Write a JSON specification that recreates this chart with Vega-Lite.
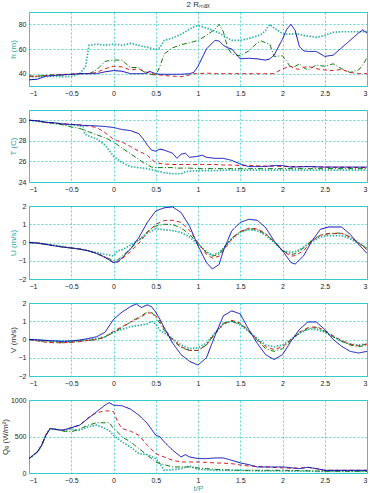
{
"$schema": "https://vega.github.io/schema/vega-lite/v6.json",
"padding": {"left": 0, "top": 0, "right": 0, "bottom": 0},
"bounds": "flush",
"spacing": 24,
"config": {
 "view": {"stroke": "#33cccc", "strokeWidth": 1},
 "axis": {"domain": false, "grid": true, "gridColor": "#33cccc", "gridDash": [2, 2], "gridOpacity": 1, "gridWidth": 0.8, "tickSize": 0, "labelFont": "Liberation Sans", "labelFontSize": 7, "labelColor": "#222", "titleFont": "Liberation Sans", "titleFontSize": 8, "titleFontWeight": "normal", "labelPadding": 3, "format": "~f"},
 "axisY": {"titlePadding": 1},
 "axisX": {"labelPadding": 3}
},
"datasets": {
 "h": [
  {"t": -1, "b": 35, "r": 38, "g": 38, "c": 37.5},
  {"t": -0.9, "b": 35.5, "r": 38, "g": 38, "c": 37.5},
  {"t": -0.8, "b": 38, "r": 38.5, "g": 38.5, "c": 37.8},
  {"t": -0.7, "b": 38.5, "r": 39, "g": 39, "c": 37.8},
  {"t": -0.6, "b": 39, "r": 39.5, "g": 39, "c": 37.5},
  {"t": -0.5, "b": 39.5, "r": 39.5, "g": 39.5, "c": 37.8},
  {"t": -0.4, "b": 40, "r": 40, "g": 40, "c": 40},
  {"t": -0.33, "b": 40, "r": 40, "g": 40, "c": 46},
  {"t": -0.29, "b": 40, "r": 40, "g": 40, "c": 63},
  {"t": -0.2, "b": 40, "r": 41, "g": 43, "c": 64},
  {"t": -0.1, "b": 41.5, "r": 44, "g": 50, "c": 63},
  {"t": 0, "b": 42.5, "r": 46, "g": 51, "c": 64},
  {"t": 0.1, "b": 42, "r": 45.5, "g": 51, "c": 63},
  {"t": 0.2, "b": 40, "r": 43, "g": 45, "c": 64.5},
  {"t": 0.3, "b": 40, "r": 44, "g": 45, "c": 63},
  {"t": 0.35, "b": 40, "r": 42, "g": 42, "c": 62},
  {"t": 0.4, "b": 40.5, "r": 41, "g": 40, "c": 61.5},
  {"t": 0.42, "b": 42, "r": 41, "g": 40, "c": 61},
  {"t": 0.5, "b": 40, "r": 39, "g": 38.5, "c": 59.5},
  {"t": 0.55, "b": 39.5, "r": 39, "g": 46, "c": 61},
  {"t": 0.6, "b": 39.5, "r": 38.5, "g": 56, "c": 67},
  {"t": 0.7, "b": 39.5, "r": 38, "g": 61, "c": 69},
  {"t": 0.8, "b": 39.5, "r": 37.5, "g": 63.5, "c": 72},
  {"t": 0.9, "b": 40, "r": 39, "g": 65, "c": 76},
  {"t": 0.95, "b": 41, "r": 40, "g": 66, "c": 78},
  {"t": 1.0, "b": 46, "r": 40, "g": 67, "c": 79},
  {"t": 1.1, "b": 60, "r": 40.5, "g": 71, "c": 77},
  {"t": 1.2, "b": 67, "r": 40, "g": 76, "c": 74.5},
  {"t": 1.25, "b": 66.5, "r": 40, "g": 80, "c": 73},
  {"t": 1.3, "b": 63, "r": 40, "g": 74, "c": 71},
  {"t": 1.35, "b": 61, "r": 40, "g": 61, "c": 69},
  {"t": 1.4, "b": 60, "r": 40, "g": 56, "c": 67},
  {"t": 1.5, "b": 52, "r": 40, "g": 54.5, "c": 67},
  {"t": 1.6, "b": 52.5, "r": 40, "g": 58.5, "c": 68.5},
  {"t": 1.7, "b": 52, "r": 40, "g": 65, "c": 70.5},
  {"t": 1.75, "b": 51.5, "r": 40, "g": 66.5, "c": 72},
  {"t": 1.8, "b": 51, "r": 40, "g": 65, "c": 75},
  {"t": 1.85, "b": 52, "r": 40, "g": 64, "c": 80},
  {"t": 1.9, "b": 55, "r": 40, "g": 54, "c": 77},
  {"t": 2.0, "b": 68, "r": 44, "g": 54.5, "c": 72.5},
  {"t": 2.05, "b": 76, "r": 45, "g": 50, "c": 72},
  {"t": 2.1, "b": 80, "r": 46, "g": 44.5, "c": 72},
  {"t": 2.15, "b": 75, "r": 44, "g": 46, "c": 72.5},
  {"t": 2.2, "b": 62, "r": 43.5, "g": 48, "c": 72},
  {"t": 2.25, "b": 58.5, "r": 45, "g": 45, "c": 71},
  {"t": 2.3, "b": 58, "r": 46, "g": 43, "c": 70.5},
  {"t": 2.4, "b": 58, "r": 44, "g": 47, "c": 69.5},
  {"t": 2.5, "b": 54, "r": 43, "g": 46, "c": 71},
  {"t": 2.6, "b": 55, "r": 42.5, "g": 48, "c": 73.5},
  {"t": 2.7, "b": 61, "r": 43.5, "g": 44, "c": 74},
  {"t": 2.8, "b": 67, "r": 41, "g": 41, "c": 74},
  {"t": 2.9, "b": 73, "r": 40, "g": 43, "c": 74},
  {"t": 2.95, "b": 75.5, "r": 40, "g": 47, "c": 74},
  {"t": 3.0, "b": 73, "r": 40, "g": 53, "c": 74}
 ],
 "T": [
  {"t": -1, "b": 30, "r": 30, "g": 30, "c": 30},
  {"t": -0.9, "b": 29.95, "r": 29.95, "g": 29.95, "c": 29.9},
  {"t": -0.8, "b": 29.8, "r": 29.8, "g": 29.8, "c": 29.8},
  {"t": -0.7, "b": 29.75, "r": 29.75, "g": 29.7, "c": 29.7},
  {"t": -0.6, "b": 29.65, "r": 29.65, "g": 29.55, "c": 29.6},
  {"t": -0.5, "b": 29.6, "r": 29.6, "g": 29.35, "c": 29.55},
  {"t": -0.4, "b": 29.55, "r": 29.55, "g": 29.2, "c": 29.45},
  {"t": -0.36, "b": 29.5, "r": 29.5, "g": 29.1, "c": 29.4},
  {"t": -0.34, "b": 29.5, "r": 29.47, "g": 29.0, "c": 28.65},
  {"t": -0.3, "b": 29.5, "r": 29.45, "g": 28.9, "c": 28.5},
  {"t": -0.2, "b": 29.45, "r": 29.3, "g": 28.6, "c": 28.2},
  {"t": -0.1, "b": 29.4, "r": 28.8, "g": 28.3, "c": 27.6},
  {"t": 0, "b": 29.3, "r": 28.15, "g": 27.9, "c": 26.5},
  {"t": 0.05, "b": 29.2, "r": 28.0, "g": 27.6, "c": 26.2},
  {"t": 0.1, "b": 29.1, "r": 27.9, "g": 27.3, "c": 25.9},
  {"t": 0.2, "b": 29.0, "r": 27.45, "g": 26.75, "c": 25.5},
  {"t": 0.3, "b": 28.7, "r": 27.0, "g": 26.2, "c": 25.4},
  {"t": 0.35, "b": 28.2, "r": 26.8, "g": 25.9, "c": 25.35},
  {"t": 0.4, "b": 27.6, "r": 26.6, "g": 25.7, "c": 25.3},
  {"t": 0.45, "b": 27.1, "r": 26.2, "g": 25.45, "c": 25.2},
  {"t": 0.5, "b": 27.0, "r": 25.9, "g": 25.4, "c": 25.1},
  {"t": 0.55, "b": 27.2, "r": 25.8, "g": 25.4, "c": 25.0},
  {"t": 0.6, "b": 27.1, "r": 25.75, "g": 25.4, "c": 24.9},
  {"t": 0.7, "b": 26.8, "r": 25.7, "g": 25.4, "c": 24.8},
  {"t": 0.75, "b": 26.3, "r": 25.7, "g": 25.35, "c": 24.8},
  {"t": 0.8, "b": 26.7, "r": 25.7, "g": 25.35, "c": 24.8},
  {"t": 0.85, "b": 26.8, "r": 25.7, "g": 25.35, "c": 25.0},
  {"t": 0.9, "b": 26.4, "r": 25.7, "g": 25.35, "c": 25.05},
  {"t": 1.0, "b": 26.5, "r": 25.7, "g": 25.3, "c": 25.1},
  {"t": 1.05, "b": 26.6, "r": 25.7, "g": 25.3, "c": 25.1},
  {"t": 1.1, "b": 26.4, "r": 25.7, "g": 25.3, "c": 25.1},
  {"t": 1.2, "b": 26.3, "r": 25.7, "g": 25.3, "c": 25.1},
  {"t": 1.3, "b": 26.3, "r": 25.65, "g": 25.3, "c": 25.15},
  {"t": 1.4, "b": 26.1, "r": 25.65, "g": 25.3, "c": 25.15},
  {"t": 1.5, "b": 25.75, "r": 25.6, "g": 25.3, "c": 25.15},
  {"t": 1.6, "b": 25.5, "r": 25.6, "g": 25.3, "c": 25.15},
  {"t": 1.8, "b": 25.5, "r": 25.55, "g": 25.3, "c": 25.15},
  {"t": 1.9, "b": 25.6, "r": 25.55, "g": 25.3, "c": 25.15},
  {"t": 2.0, "b": 25.6, "r": 25.5, "g": 25.3, "c": 25.15},
  {"t": 2.1, "b": 25.45, "r": 25.5, "g": 25.3, "c": 25.15},
  {"t": 2.3, "b": 25.5, "r": 25.5, "g": 25.3, "c": 25.15},
  {"t": 2.5, "b": 25.45, "r": 25.45, "g": 25.3, "c": 25.15},
  {"t": 3.0, "b": 25.45, "r": 25.4, "g": 25.3, "c": 25.15}
 ],
 "U": [
  {"t": -1, "b": 0, "r": 0, "g": 0, "c": 0},
  {"t": -0.9, "b": -0.03, "r": -0.03, "g": -0.03, "c": -0.03},
  {"t": -0.8, "b": -0.1, "r": -0.1, "g": -0.1, "c": -0.1},
  {"t": -0.7, "b": -0.18, "r": -0.18, "g": -0.18, "c": -0.15},
  {"t": -0.6, "b": -0.25, "r": -0.25, "g": -0.25, "c": -0.22},
  {"t": -0.5, "b": -0.3, "r": -0.3, "g": -0.3, "c": -0.3},
  {"t": -0.4, "b": -0.36, "r": -0.36, "g": -0.36, "c": -0.36},
  {"t": -0.3, "b": -0.45, "r": -0.45, "g": -0.45, "c": -0.45},
  {"t": -0.2, "b": -0.6, "r": -0.6, "g": -0.6, "c": -0.55},
  {"t": -0.1, "b": -0.82, "r": -0.8, "g": -0.78, "c": -0.65},
  {"t": 0, "b": -1.1, "r": -1.1, "g": -1.0, "c": -0.73},
  {"t": 0.05, "b": -1.05, "r": -1.08, "g": -0.95, "c": -0.45},
  {"t": 0.1, "b": -0.85, "r": -0.9, "g": -0.75, "c": -0.4},
  {"t": 0.2, "b": -0.36, "r": -0.5, "g": -0.35, "c": -0.15},
  {"t": 0.3, "b": 0.27, "r": -0.05, "g": 0.1, "c": 0.15},
  {"t": 0.4, "b": 1.1, "r": 0.55, "g": 0.6, "c": 0.5},
  {"t": 0.5, "b": 1.73, "r": 1.0, "g": 0.9, "c": 0.75},
  {"t": 0.6, "b": 1.9, "r": 1.2, "g": 1.0, "c": 0.7},
  {"t": 0.7, "b": 1.95, "r": 1.22, "g": 0.98, "c": 0.65},
  {"t": 0.8, "b": 1.64, "r": 1.1, "g": 0.8, "c": 0.55},
  {"t": 0.9, "b": 0.9, "r": 0.65, "g": 0.45, "c": 0.3},
  {"t": 1.0, "b": -0.18, "r": 0.0, "g": -0.05, "c": -0.1},
  {"t": 1.1, "b": -1.1, "r": -0.65, "g": -0.55, "c": -0.5},
  {"t": 1.17, "b": -1.45, "r": -0.85, "g": -0.75, "c": -0.7},
  {"t": 1.25, "b": -1.2, "r": -0.75, "g": -0.65, "c": -0.55},
  {"t": 1.3, "b": -0.45, "r": -0.45, "g": -0.35, "c": -0.3},
  {"t": 1.4, "b": 0.64, "r": 0.2, "g": 0.25, "c": 0.2},
  {"t": 1.5, "b": 1.1, "r": 0.6, "g": 0.6, "c": 0.55},
  {"t": 1.6, "b": 1.27, "r": 0.78, "g": 0.75, "c": 0.7},
  {"t": 1.7, "b": 1.22, "r": 0.75, "g": 0.72, "c": 0.65},
  {"t": 1.8, "b": 0.82, "r": 0.5, "g": 0.45, "c": 0.4},
  {"t": 1.9, "b": 0.09, "r": 0.05, "g": 0.05, "c": 0.0},
  {"t": 2.0, "b": -0.45, "r": -0.45, "g": -0.45, "c": -0.45},
  {"t": 2.1, "b": -1.1, "r": -0.75, "g": -0.65, "c": -0.55},
  {"t": 2.15, "b": -1.18, "r": -0.72, "g": -0.62, "c": -0.5},
  {"t": 2.25, "b": -0.73, "r": -0.45, "g": -0.3, "c": -0.25},
  {"t": 2.35, "b": 0.1, "r": 0.1, "g": 0.15, "c": 0.05},
  {"t": 2.45, "b": 0.73, "r": 0.4, "g": 0.4, "c": 0.3},
  {"t": 2.55, "b": 0.85, "r": 0.48, "g": 0.5, "c": 0.38},
  {"t": 2.7, "b": 0.85, "r": 0.5, "g": 0.52, "c": 0.38},
  {"t": 2.8, "b": 0.45, "r": 0.3, "g": 0.3, "c": 0.2},
  {"t": 2.9, "b": -0.09, "r": 0.0, "g": 0.0, "c": -0.05},
  {"t": 3.0, "b": -0.6, "r": -0.4, "g": -0.35, "c": -0.3}
 ],
 "V": [
  {"t": -1, "b": 0, "r": 0, "g": 0, "c": 0},
  {"t": -0.9, "b": -0.02, "r": -0.08, "g": -0.05, "c": -0.03},
  {"t": -0.8, "b": -0.05, "r": -0.15, "g": -0.12, "c": -0.06},
  {"t": -0.7, "b": -0.08, "r": -0.18, "g": -0.15, "c": -0.08},
  {"t": -0.6, "b": -0.1, "r": -0.18, "g": -0.18, "c": -0.1},
  {"t": -0.5, "b": -0.08, "r": -0.15, "g": -0.15, "c": -0.08},
  {"t": -0.4, "b": -0.03, "r": -0.12, "g": -0.1, "c": -0.05},
  {"t": -0.3, "b": 0.05, "r": -0.05, "g": -0.05, "c": 0.0},
  {"t": -0.2, "b": 0.15, "r": 0.0, "g": 0.0, "c": 0.05},
  {"t": -0.1, "b": 0.4, "r": 0.15, "g": 0.12, "c": 0.15},
  {"t": 0, "b": 1.1, "r": 0.45, "g": 0.4, "c": 0.4},
  {"t": 0.1, "b": 1.5, "r": 0.7, "g": 0.65, "c": 0.55},
  {"t": 0.2, "b": 1.8, "r": 0.95, "g": 0.95, "c": 0.7},
  {"t": 0.27, "b": 1.95, "r": 1.1, "g": 1.15, "c": 0.75},
  {"t": 0.33, "b": 1.75, "r": 1.25, "g": 1.3, "c": 0.8},
  {"t": 0.4, "b": 1.9, "r": 1.45, "g": 1.5, "c": 0.85},
  {"t": 0.45, "b": 1.8, "r": 1.45, "g": 1.5, "c": 1.0},
  {"t": 0.5, "b": 1.5, "r": 1.3, "g": 1.2, "c": 0.85},
  {"t": 0.55, "b": 1.1, "r": 1.0, "g": 0.9, "c": 0.5},
  {"t": 0.6, "b": 0.65, "r": 0.6, "g": 0.5, "c": 0.35},
  {"t": 0.7, "b": -0.2, "r": 0.0, "g": -0.05, "c": 0.05},
  {"t": 0.8, "b": -0.83, "r": -0.4, "g": -0.45, "c": -0.3},
  {"t": 0.9, "b": -1.2, "r": -0.6, "g": -0.6, "c": -0.5},
  {"t": 1.0, "b": -1.4, "r": -0.6, "g": -0.6, "c": -0.45},
  {"t": 1.1, "b": -1.0, "r": -0.3, "g": -0.3, "c": -0.2},
  {"t": 1.2, "b": 0.2, "r": 0.3, "g": 0.35, "c": 0.35},
  {"t": 1.3, "b": 1.3, "r": 0.85, "g": 0.9, "c": 0.85},
  {"t": 1.4, "b": 1.57, "r": 1.05, "g": 1.0, "c": 1.0},
  {"t": 1.5, "b": 1.4, "r": 0.9, "g": 0.85, "c": 0.8},
  {"t": 1.6, "b": 0.55, "r": 0.5, "g": 0.45, "c": 0.45},
  {"t": 1.7, "b": -0.2, "r": 0.0, "g": -0.05, "c": 0.05},
  {"t": 1.8, "b": -0.83, "r": -0.4, "g": -0.5, "c": -0.3},
  {"t": 1.9, "b": -1.1, "r": -0.55, "g": -0.65, "c": -0.4},
  {"t": 2.0, "b": -0.83, "r": -0.4, "g": -0.5, "c": -0.3},
  {"t": 2.1, "b": -0.1, "r": 0.0, "g": -0.05, "c": 0.0},
  {"t": 2.2, "b": 0.55, "r": 0.4, "g": 0.35, "c": 0.35},
  {"t": 2.3, "b": 0.96, "r": 0.65, "g": 0.6, "c": 0.55},
  {"t": 2.4, "b": 0.96, "r": 0.7, "g": 0.65, "c": 0.55},
  {"t": 2.5, "b": 0.55, "r": 0.5, "g": 0.45, "c": 0.4},
  {"t": 2.6, "b": 0.0, "r": 0.2, "g": 0.15, "c": 0.15},
  {"t": 2.7, "b": -0.37, "r": -0.05, "g": -0.1, "c": -0.1},
  {"t": 2.8, "b": -0.65, "r": -0.25, "g": -0.3, "c": -0.25},
  {"t": 2.9, "b": -0.74, "r": -0.35, "g": -0.4, "c": -0.3},
  {"t": 3.0, "b": -0.65, "r": -0.25, "g": -0.3, "c": -0.25}
 ],
 "Q": [
  {"t": -1, "b": 197, "r": 197, "g": 197, "c": 197},
  {"t": -0.9, "b": 289, "r": 289, "g": 289, "c": 289},
  {"t": -0.85, "b": 380, "r": 380, "g": 380, "c": 380},
  {"t": -0.8, "b": 518, "r": 518, "g": 518, "c": 518},
  {"t": -0.75, "b": 610, "r": 610, "g": 610, "c": 610},
  {"t": -0.7, "b": 600, "r": 600, "g": 600, "c": 600},
  {"t": -0.6, "b": 587, "r": 587, "g": 575, "c": 580},
  {"t": -0.5, "b": 620, "r": 620, "g": 564, "c": 600},
  {"t": -0.4, "b": 656, "r": 656, "g": 600, "c": 587},
  {"t": -0.3, "b": 748, "r": 757, "g": 656, "c": 633},
  {"t": -0.2, "b": 840, "r": 826, "g": 688, "c": 656},
  {"t": -0.1, "b": 930, "r": 850, "g": 688, "c": 610},
  {"t": -0.05, "b": 963, "r": 850, "g": 690, "c": 580},
  {"t": 0, "b": 930, "r": 840, "g": 610, "c": 518},
  {"t": 0.05, "b": 925, "r": 700, "g": 560, "c": 470},
  {"t": 0.1, "b": 922, "r": 610, "g": 495, "c": 427},
  {"t": 0.2, "b": 876, "r": 573, "g": 427, "c": 358},
  {"t": 0.3, "b": 793, "r": 518, "g": 335, "c": 266},
  {"t": 0.4, "b": 679, "r": 380, "g": 243, "c": 252},
  {"t": 0.5, "b": 518, "r": 266, "g": 151, "c": 197},
  {"t": 0.55, "b": 495, "r": 240, "g": 130, "c": 128},
  {"t": 0.6, "b": 427, "r": 220, "g": 115, "c": 37},
  {"t": 0.7, "b": 312, "r": 174, "g": 83, "c": 46},
  {"t": 0.8, "b": 220, "r": 151, "g": 83, "c": 60},
  {"t": 0.85, "b": 252, "r": 151, "g": 83, "c": 80},
  {"t": 0.9, "b": 220, "r": 151, "g": 83, "c": 96},
  {"t": 1.0, "b": 197, "r": 151, "g": 69, "c": 50},
  {"t": 1.1, "b": 197, "r": 145, "g": 60, "c": 45},
  {"t": 1.2, "b": 206, "r": 138, "g": 50, "c": 37},
  {"t": 1.3, "b": 206, "r": 135, "g": 45, "c": 37},
  {"t": 1.4, "b": 174, "r": 128, "g": 40, "c": 35},
  {"t": 1.5, "b": 138, "r": 110, "g": 37, "c": 35},
  {"t": 1.6, "b": 115, "r": 96, "g": 37, "c": 33},
  {"t": 1.7, "b": 83, "r": 90, "g": 37, "c": 30},
  {"t": 2.0, "b": 83, "r": 69, "g": 37, "c": 28},
  {"t": 2.2, "b": 60, "r": 65, "g": 33, "c": 25},
  {"t": 2.3, "b": 78, "r": 78, "g": 30, "c": 25},
  {"t": 2.4, "b": 60, "r": 60, "g": 28, "c": 23},
  {"t": 2.5, "b": 37, "r": 37, "g": 23, "c": 23},
  {"t": 3.0, "b": 37, "r": 37, "g": 23, "c": 23}
 ]
},
"vconcat": [
 {
  "title": {"text": "2 Rₘₐₓ", "fontSize": 8, "fontWeight": "normal", "font": "Liberation Sans", "color": "#333", "offset": 3, "frame": "group", "anchor": "middle"},
  "width": 338, "height": 74,
  "data": {"name": "h"},
  "transform": [{"fold": ["c", "g", "r", "b"], "as": ["s", "v"]}],
  "mark": {"type": "line", "clip": true},
  "encoding": {
   "x": {"field": "t", "type": "quantitative", "scale": {"domain": [-1, 3], "nice": false}, "axis": {"title": null, "values": [-1, -0.5, 0, 0.5, 1, 1.5, 2, 2.5, 3]}},
   "y": {"field": "v", "type": "quantitative", "scale": {"domain": [30, 90], "nice": false, "zero": false}, "axis": {"title": "h (m)", "titleColor": "#2aa8a8", "values": [40, 60, 80]}},
   "color": {"field": "s", "type": "nominal", "scale": {"domain": ["b", "r", "g", "c"], "range": ["#0a0ab4", "#d42020", "#127a12", "#2fb4a6"]}, "legend": null},
   "strokeDash": {"field": "s", "type": "nominal", "scale": {"domain": ["b", "r", "g", "c"], "range": [[1, 0], [4, 3], [5, 2, 1, 2], [1.5, 1.5]]}, "legend": null},
   "strokeWidth": {"field": "s", "type": "nominal", "scale": {"type": "ordinal", "domain": ["b", "r", "g", "c"], "range": [1, 1, 1, 1.7]}, "legend": null}
  }
 },
 {
  "width": 338, "height": 72,
  "data": {"name": "T"},
  "transform": [{"fold": ["c", "g", "r", "b"], "as": ["s", "v"]}],
  "mark": {"type": "line", "clip": true},
  "encoding": {
   "x": {"field": "t", "type": "quantitative", "scale": {"domain": [-1, 3], "nice": false}, "axis": {"title": null, "values": [-1, -0.5, 0, 0.5, 1, 1.5, 2, 2.5, 3]}},
   "y": {"field": "v", "type": "quantitative", "scale": {"domain": [24, 31], "nice": false, "zero": false}, "axis": {"title": "T (C)", "titleColor": "#2aa8a8", "values": [24, 26, 28, 30]}},
   "color": {"field": "s", "type": "nominal", "scale": {"domain": ["b", "r", "g", "c"], "range": ["#0a0ab4", "#d42020", "#127a12", "#2fb4a6"]}, "legend": null},
   "strokeDash": {"field": "s", "type": "nominal", "scale": {"domain": ["b", "r", "g", "c"], "range": [[1, 0], [4, 3], [5, 2, 1, 2], [1.5, 1.5]]}, "legend": null},
   "strokeWidth": {"field": "s", "type": "nominal", "scale": {"type": "ordinal", "domain": ["b", "r", "g", "c"], "range": [1, 1, 1, 1.7]}, "legend": null}
  }
 },
 {
  "width": 338, "height": 73,
  "data": {"name": "U"},
  "transform": [{"fold": ["c", "g", "r", "b"], "as": ["s", "v"]}],
  "mark": {"type": "line", "clip": true},
  "encoding": {
   "x": {"field": "t", "type": "quantitative", "scale": {"domain": [-1, 3], "nice": false}, "axis": {"title": null, "values": [-1, -0.5, 0, 0.5, 1, 1.5, 2, 2.5, 3]}},
   "y": {"field": "v", "type": "quantitative", "scale": {"domain": [-2, 2], "nice": false, "zero": false}, "axis": {"title": "U (m/s)", "titleColor": "#2aa8a8", "values": [-2, -1, 0, 1, 2]}},
   "color": {"field": "s", "type": "nominal", "scale": {"domain": ["b", "r", "g", "c"], "range": ["#0a0ab4", "#d42020", "#127a12", "#2fb4a6"]}, "legend": null},
   "strokeDash": {"field": "s", "type": "nominal", "scale": {"domain": ["b", "r", "g", "c"], "range": [[1, 0], [4, 3], [5, 2, 1, 2], [1.5, 1.5]]}, "legend": null},
   "strokeWidth": {"field": "s", "type": "nominal", "scale": {"type": "ordinal", "domain": ["b", "r", "g", "c"], "range": [1, 1, 1, 1.7]}, "legend": null}
  }
 },
 {
  "width": 338, "height": 73,
  "data": {"name": "V"},
  "transform": [{"fold": ["c", "g", "r", "b"], "as": ["s", "v"]}],
  "mark": {"type": "line", "clip": true},
  "encoding": {
   "x": {"field": "t", "type": "quantitative", "scale": {"domain": [-1, 3], "nice": false}, "axis": {"title": null, "values": [-1, -0.5, 0, 0.5, 1, 1.5, 2, 2.5, 3]}},
   "y": {"field": "v", "type": "quantitative", "scale": {"domain": [-2, 2], "nice": false, "zero": false}, "axis": {"title": "V (m/s)", "titleColor": "#333", "values": [-2, -1, 0, 1, 2]}},
   "color": {"field": "s", "type": "nominal", "scale": {"domain": ["b", "r", "g", "c"], "range": ["#0a0ab4", "#d42020", "#127a12", "#2fb4a6"]}, "legend": null},
   "strokeDash": {"field": "s", "type": "nominal", "scale": {"domain": ["b", "r", "g", "c"], "range": [[1, 0], [4, 3], [5, 2, 1, 2], [1.5, 1.5]]}, "legend": null},
   "strokeWidth": {"field": "s", "type": "nominal", "scale": {"type": "ordinal", "domain": ["b", "r", "g", "c"], "range": [1, 1, 1, 1.7]}, "legend": null}
  }
 },
 {
  "width": 338, "height": 73,
  "data": {"name": "Q"},
  "transform": [{"fold": ["c", "g", "r", "b"], "as": ["s", "v"]}],
  "mark": {"type": "line", "clip": true},
  "encoding": {
   "x": {"field": "t", "type": "quantitative", "scale": {"domain": [-1, 3], "nice": false}, "axis": {"title": "t/P", "titleColor": "#2aa8a8", "titlePadding": 1, "values": [-1, -0.5, 0, 0.5, 1, 1.5, 2, 2.5, 3]}},
   "y": {"field": "v", "type": "quantitative", "scale": {"domain": [0, 1000], "nice": false, "zero": false}, "axis": {"title": "Qₑ (W/m²)", "titleColor": "#333", "values": [0, 500, 1000]}},
   "color": {"field": "s", "type": "nominal", "scale": {"domain": ["b", "r", "g", "c"], "range": ["#0a0ab4", "#d42020", "#127a12", "#2fb4a6"]}, "legend": null},
   "strokeDash": {"field": "s", "type": "nominal", "scale": {"domain": ["b", "r", "g", "c"], "range": [[1, 0], [4, 3], [5, 2, 1, 2], [1.5, 1.5]]}, "legend": null},
   "strokeWidth": {"field": "s", "type": "nominal", "scale": {"type": "ordinal", "domain": ["b", "r", "g", "c"], "range": [1, 1, 1, 1.7]}, "legend": null}
  }
 }
]
}
